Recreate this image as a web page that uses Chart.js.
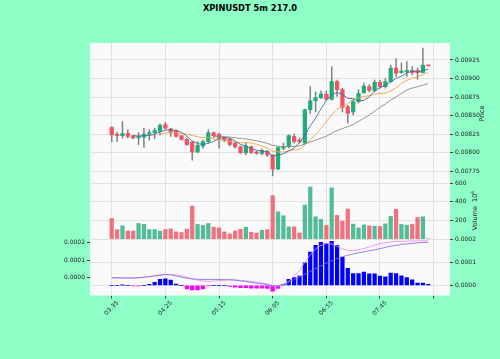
<!DOCTYPE html>
<html>
<head>
<meta charset="utf-8">
<script src="https://cdn.jsdelivr.net/npm/chart.js@4.4.1/dist/chart.umd.min.js"></script>
<style>
  html, body { margin: 0; padding: 0; background: #8effc7; }
  #wrap { position: relative; width: 500px; height: 359px; overflow: hidden; font-family: "DejaVu Sans", sans-serif; }
  #wrap canvas { position: absolute; left: 0; top: 0; }
  .title { position: absolute; top: 3px; left: 0; width: 500px; text-align: center; font-weight: bold; font-size: 8.3px; line-height: 10px; color: #000; }
  .ylab { position: absolute; width: 80px; height: 9px; line-height: 9px; text-align: center; font-size: 6.5px; color: #222; transform: rotate(-90deg); white-space: nowrap; }
  .ylab sup { font-size: 4.5px; vertical-align: 3px; }
</style>
</head>
<body>
<div id="wrap">
  <div class="title">XPINUSDT 5m 217.0</div>
  <canvas id="price" width="500" height="359"></canvas>
  <canvas id="vol" width="500" height="359"></canvas>
  <canvas id="osc" width="500" height="359"></canvas>
  <div class="ylab" style="left:442px; top:108.5px;">Price</div>
  <div class="ylab" style="left:432px; top:205.5px;">Volume&nbsp;&nbsp;10<sup>6</sup></div>
</div>
<script>
// 5m candles, index 0 = 03:35
const open = [0.00834, 0.00825, 0.00823, 0.00826, 0.00823, 0.00820, 0.00821, 0.00825, 0.00827, 0.00829,
  0.00838, 0.00832, 0.00830, 0.00823, 0.00818, 0.00814, 0.00801, 0.00809, 0.00815, 0.00827,
  0.00825, 0.00820, 0.00818, 0.00813, 0.00808, 0.00800, 0.00808, 0.00801, 0.00799, 0.00802,
  0.00797, 0.00778, 0.00806, 0.00808, 0.00822, 0.00817, 0.00813, 0.00858, 0.00870, 0.00874,
  0.00879, 0.00872, 0.00896, 0.00885, 0.00862, 0.00855, 0.00869, 0.00881, 0.00889, 0.00884,
  0.00895, 0.00889, 0.00896, 0.00914, 0.00908, 0.00909, 0.00911, 0.00911, 0.00908, 0.00918];
const high = [0.00835, 0.00828, 0.00842, 0.00831, 0.00823, 0.00827, 0.00833, 0.00831, 0.00833, 0.00839,
  0.00841, 0.00833, 0.00831, 0.00823, 0.00819, 0.00815, 0.00815, 0.00817, 0.00831, 0.00828,
  0.00826, 0.00821, 0.00819, 0.00814, 0.00809, 0.00813, 0.00809, 0.00802, 0.00805, 0.00803,
  0.00797, 0.00808, 0.00813, 0.00824, 0.00825, 0.00820, 0.00859, 0.00889, 0.00882, 0.00883,
  0.00883, 0.00916, 0.00898, 0.00887, 0.00864, 0.00871, 0.00885, 0.00894, 0.00892, 0.00898,
  0.00898, 0.00900, 0.00918, 0.00927, 0.00921, 0.00923, 0.00916, 0.00914, 0.00941, 0.00918];
const low = [0.00815, 0.00815, 0.00820, 0.00820, 0.00819, 0.00811, 0.00807, 0.00817, 0.00819, 0.00824,
  0.00832, 0.00822, 0.00821, 0.00817, 0.00810, 0.00790, 0.00800, 0.00806, 0.00813, 0.00820,
  0.00806, 0.00815, 0.00809, 0.00806, 0.00799, 0.00797, 0.00799, 0.00798, 0.00797, 0.00795,
  0.00769, 0.00777, 0.00804, 0.00806, 0.00813, 0.00813, 0.00812, 0.00853, 0.00855, 0.00873,
  0.00871, 0.00871, 0.00876, 0.00855, 0.00840, 0.00851, 0.00867, 0.00880, 0.00882, 0.00882,
  0.00887, 0.00887, 0.00895, 0.00903, 0.00907, 0.00903, 0.00905, 0.00899, 0.00908, 0.00917];
const close = [0.00824, 0.00823, 0.00826, 0.00822, 0.00820, 0.00822, 0.00825, 0.00827, 0.00830, 0.00837,
  0.00833, 0.00828, 0.00822, 0.00818, 0.00811, 0.00801, 0.00810, 0.00815, 0.00827, 0.00823,
  0.00820, 0.00817, 0.00811, 0.00808, 0.00800, 0.00809, 0.00800, 0.00799, 0.00803, 0.00797,
  0.00778, 0.00807, 0.00808, 0.00823, 0.00815, 0.00815, 0.00858, 0.00870, 0.00874, 0.00879,
  0.00872, 0.00896, 0.00885, 0.00861, 0.00853, 0.00869, 0.00880, 0.00890, 0.00884, 0.00895,
  0.00889, 0.00896, 0.00914, 0.00907, 0.00910, 0.00911, 0.00908, 0.00908, 0.00918, 0.00917];
// volume, in 10^6
const volume = [220, 101, 141, 86, 86, 166, 156, 101, 101, 86,
  101, 108, 76, 69, 105, 353, 156, 145, 166, 126,
  119, 76, 54, 86, 105, 126, 72, 65, 94, 101,
  465, 292, 249, 130, 130, 65, 364, 556, 238, 210,
  145, 548, 253, 191, 321, 159, 119, 151, 141, 137,
  134, 162, 242, 318, 156, 148, 156, 231, 238, 2];
// moving averages
const ma5 = [null, null, null, null, 0.008230, 0.008226, 0.008230, 0.008232, 0.008248, 0.008282,
  0.008304, 0.008310, 0.008300, 0.008276, 0.008224, 0.008160, 0.008124, 0.008110, 0.008128, 0.008152,
  0.008190, 0.008204, 0.008196, 0.008158, 0.008112, 0.008090, 0.008056, 0.008032, 0.008022, 0.008016,
  0.007954, 0.007968, 0.007986, 0.008026, 0.008062, 0.008136, 0.008238, 0.008362, 0.008464, 0.008592,
  0.008706, 0.008782, 0.008812, 0.008786, 0.008734, 0.008728, 0.008696, 0.008706, 0.008752, 0.008836,
  0.008876, 0.008908, 0.008956, 0.009002, 0.009032, 0.009076, 0.009100, 0.009088, 0.009110, 0.009124];
const ma10 = [null, null, null, null, null, null, null, null, null, 0.008256,
  0.008265, 0.008270, 0.008266, 0.008262, 0.008253, 0.008232, 0.008217, 0.008205, 0.008202, 0.008188,
  0.008175, 0.008164, 0.008153, 0.008143, 0.008132, 0.008140, 0.008130, 0.008114, 0.008090, 0.008064,
  0.008022, 0.008012, 0.008009, 0.008024, 0.008039, 0.008045, 0.008103, 0.008174, 0.008245, 0.008327,
  0.008421, 0.008510, 0.008587, 0.008625, 0.008663, 0.008717, 0.008739, 0.008759, 0.008769, 0.008785,
  0.008802, 0.008802, 0.008831, 0.008877, 0.008934, 0.008976, 0.009004, 0.009022, 0.009056, 0.009078];
const ma20 = [null, null, null, null, null, null, null, null, null, null,
  null, null, null, null, null, null, null, null, null, 0.008222,
  0.008220, 0.008217, 0.008210, 0.008203, 0.008193, 0.008186, 0.008174, 0.008160, 0.008146, 0.008126,
  0.008099, 0.008088, 0.008081, 0.008084, 0.008086, 0.008093, 0.008117, 0.008145, 0.008169, 0.008197,
  0.008222, 0.008262, 0.008299, 0.008326, 0.008352, 0.008381, 0.008421, 0.008467, 0.008508, 0.008557,
  0.008612, 0.008657, 0.008710, 0.008752, 0.008800, 0.008846, 0.008871, 0.008890, 0.008912, 0.008931];
// lower panel: histogram (right axis) and two lines (left axis)
const hist = [0, 0, 0.000001, 0, -0.000002, -0.000002, 0, 0.000004, 0.000013, 0.000026,
  0.000028, 0.000023, 0.000006, 0, -0.000015, -0.000020, -0.000020, -0.000015, -0.000003, 0,
  0, 0, -0.000005, -0.000008, -0.000010, -0.000010, -0.000012, -0.000012, -0.000012, -0.000013,
  -0.000025, -0.000013, 0.000004, 0.000026, 0.000034, 0.000040, 0.000097, 0.000144, 0.000173, 0.000186,
  0.000180, 0.000190, 0.000173, 0.000121, 0.000073, 0.000051, 0.000051, 0.000057, 0.000050, 0.000050,
  0.000040, 0.000037, 0.000053, 0.000051, 0.000041, 0.000034, 0.000024, 0.000010, 0.000010, 0.000004];
const lineA = [0, 0, -0.000001, -0.000002, -0.000002, 0, 0.000003, 0.000006, 0.000011, 0.000016,
  0.000019, 0.000016, 0.000010, 0.000003, -0.000003, -0.000007, -0.000009, -0.000010, -0.000010, -0.000010,
  -0.000010, -0.000011, -0.000011, -0.000014, -0.000018, -0.000022, -0.000027, -0.000031, -0.000035, -0.000040,
  -0.000050, -0.000047, -0.000038, -0.000025, -0.000010, 0.000005, 0.000020, 0.000036, 0.000052, 0.000068,
  0.000083, 0.000097, 0.000110, 0.000120, 0.000128, 0.000135, 0.000142, 0.000148, 0.000154, 0.000159,
  0.000166, 0.000173, 0.000180, 0.000185, 0.000190, 0.000193, 0.000196, 0.000199, 0.000201, 0.000202];
const lineB = [-0.000002, -0.000002, -0.000002, -0.000002, -0.000001, 0, 0.000002, 0.000005, 0.000009, 0.000013,
  0.000017, 0.000018, 0.000016, 0.000011, 0.000003, -0.000006, -0.000014, -0.000019, -0.000021, -0.000020,
  -0.000017, -0.000015, -0.000013, -0.000013, -0.000015, -0.000018, -0.000022, -0.000026, -0.000031, -0.000036,
  -0.000043, -0.000050, -0.000040, -0.000020, 0.000010, 0.000040, 0.000090, 0.000130, 0.000165, 0.000185,
  0.000195, 0.000193, 0.000180, 0.000165, 0.000155, 0.000155, 0.000160, 0.000167, 0.000175, 0.000185,
  0.000195, 0.000200, 0.000205, 0.000207, 0.000208, 0.000209, 0.000210, 0.000210, 0.000211, 0.000211];
const tickIdx = [0, 10, 20, 30, 40, 50, 60];
const tickLabels = ['03:35', '04:25', '05:15', '06:05', '06:55', '07:45', ''];
const priceTicks = [0.00775, 0.00800, 0.00825, 0.00850, 0.00875, 0.00900, 0.00925];
const volTicks = [200, 400, 600];
const oscTicks = [0, 0.0001, 0.0002];

const UP = '#22ab7a', DOWN = '#ef5364';
const GRID = '#e2e2e2';
const TXT = '#222';
const FONT = { family: 'DejaVu Sans', size: 6 };
const X_MIN = -4.05, X_MAX = 63.05;

const idx = close.map((_, i) => i);
const isUp = idx.map(i => close[i] >= open[i]);
const pts = arr => arr.map((v, i) => (v === null ? null : { x: i, y: v })).filter(p => p);

const plotBg = {
  id: 'plotBg',
  beforeDraw(c) {
    const a = c.chartArea;
    c.ctx.save();
    c.ctx.fillStyle = '#fafafa';
    c.ctx.fillRect(a.left, a.top, a.right - a.left, a.bottom - a.top);
    c.ctx.restore();
  }
};

function xAxis(labels) {
  return {
    type: 'linear', min: X_MIN, max: X_MAX, offset: false,
    afterBuildTicks: s => { s.ticks = tickIdx.map(v => ({ value: v })); },
    afterFit: s => { s.height = labels ? 30 : 0; },
    grid: { color: GRID, offset: false, drawTicks: labels, tickLength: 3, tickColor: '#444' },
    border: { display: false },
    ticks: {
      display: labels, autoSkip: false, minRotation: 45, maxRotation: 45, labelOffset: 6, padding: 1,
      font: FONT, color: TXT,
      callback: (v, i) => tickLabels[i]
    }
  };
}

function yAxis(pos, min, max, ticks, fmt, width, grid) {
  return {
    position: pos, min, max,
    afterBuildTicks: s => { s.ticks = ticks.map(v => ({ value: v })); },
    afterFit: s => { s.width = width; },
    grid: { color: GRID, drawOnChartArea: grid, tickLength: 3, tickColor: '#444' },
    border: { display: false },
    ticks: { font: FONT, color: TXT, padding: 2, callback: fmt }
  };
}

const base = (pad) => ({
  responsive: false, animation: false,
  layout: { padding: pad },
  plugins: { legend: { display: false }, tooltip: { enabled: false } }
});

const maLine = (arr, color) => ({
  type: 'line', data: pts(arr), borderColor: color, borderWidth: 0.9, pointRadius: 0, fill: false
});

new Chart(document.getElementById('price'), {
  type: 'bar',
  data: {
    datasets: [
      maLine(ma5, '#3f6e96'),
      maLine(ma10, '#f5a145'),
      maLine(ma20, '#8a8a8a'),
      {
        data: idx.map(i => ({ x: i, y: [open[i], close[i]] })),
        backgroundColor: idx.map(i => (isUp[i] ? UP : DOWN)),
        borderWidth: 0, barThickness: 3.6, grouped: false, minBarLength: 1
      },
      {
        data: idx.map(i => ({ x: i, y: [low[i], high[i]] })),
        backgroundColor: '#7d7d7d', borderWidth: 0, barThickness: 0.8, grouped: false
      }
    ]
  },
  options: Object.assign(base({ left: 90, top: 43, right: 0, bottom: 176 }), {
    scales: {
      x: xAxis(false),
      y: yAxis('right', 0.007592, 0.009479, priceTicks, v => v.toFixed(5), 50, true)
    }
  }),
  plugins: [plotBg]
});

new Chart(document.getElementById('vol'), {
  type: 'bar',
  data: {
    datasets: [{
      data: idx.map(i => ({ x: i, y: volume[i] })),
      backgroundColor: idx.map(i => (isUp[i] ? 'rgba(34,171,122,0.78)' : 'rgba(239,83,100,0.82)')),
      borderWidth: 0, barThickness: 3.6
    }]
  },
  options: Object.assign(base({ left: 90, top: 183, right: 0, bottom: 120 }), {
    scales: {
      x: xAxis(false),
      y: yAxis('right', 0, 600, volTicks, v => String(v), 50, true)
    }
  }),
  plugins: [plotBg]
});

new Chart(document.getElementById('osc'), {
  type: 'bar',
  data: {
    datasets: [
      { type: 'line', yAxisID: 'yL', data: pts(lineA), borderColor: 'rgba(125,110,235,0.95)', borderWidth: 0.9, pointRadius: 0 },
      { type: 'line', yAxisID: 'yL', data: pts(lineB), borderColor: 'rgba(240,140,240,0.95)', borderWidth: 0.9, pointRadius: 0 },
      {
        yAxisID: 'y',
        data: idx.map(i => ({ x: i, y: hist[i] })),
        backgroundColor: idx.map(i => (hist[i] >= 0 ? '#0000ff' : '#ff00ff')),
        borderWidth: 0, barThickness: 3.6
      }
    ]
  },
  options: Object.assign(base({ left: 50, top: 239, right: 0, bottom: 33.5 }), {
    scales: {
      x: xAxis(true),
      y: yAxis('right', -0.0000438, 0.0002, oscTicks, v => v.toFixed(4), 50, true),
      yL: yAxis('left', -0.0001017, 0.000221, oscTicks, v => v.toFixed(4), 40, false)
    }
  }),
  plugins: [plotBg]
});
</script>
</body>
</html>
